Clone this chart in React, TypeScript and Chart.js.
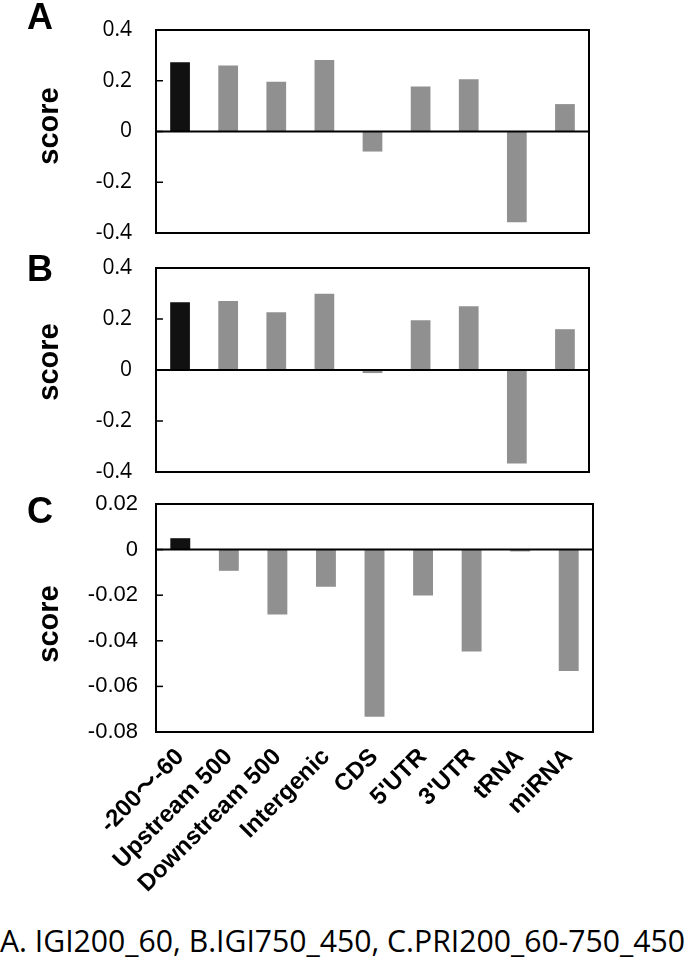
import React, { useEffect, useRef } from 'react';
import { Chart, registerables } from 'chart.js';

Chart.register(...registerables);

// ---------- data ----------
const categories = ['-200～-60', 'Upstream 500', 'Downstream 500', 'Intergenic', 'CDS', "5'UTR", "3'UTR", 'tRNA', 'miRNA'];
const scoresA = [0.273, 0.26, 0.196, 0.282, -0.079, 0.177, 0.206, -0.358, 0.108];
const scoresB = [0.266, 0.271, 0.226, 0.299, -0.012, 0.195, 0.25, -0.367, 0.16];
const scoresC = [0.005, -0.0093, -0.0285, -0.0163, -0.0733, -0.0201, -0.0447, -0.0008, -0.0532];
const ticksAB = [-0.4, -0.2, 0, 0.2, 0.4];
const tickLabelsAB = ['-0.4', '-0.2', '0', '0.2', '0.4'];
const ticksC = [-0.08, -0.06, -0.04, -0.02, 0, 0.02];
const tickLabelsC = ['-0.08', '-0.06', '-0.04', '-0.02', '0', '0.02'];
const panelLetters = ['A', 'B', 'C'];
const axisTitle = 'score';
const caption = 'A. IGI200_60, B.IGI750_450, C.PRI200_60-750_450';

// ---------- style ----------
const BLACK = '#111111';
const GRAY = '#909090';
const SANS = '"Liberation Sans", Arial, "Noto Sans CJK JP", sans-serif';
const HUMAN = '"Open Sans", "Liberation Sans", sans-serif';

type Panel = {
  values: number[];
  ticks: number[];
  labels: string[];
  canvasTop: number;
  canvasHeight: number;
  padTop: number;
  padBottom: number;
  padRight: number;
  showX: boolean;
  xHeight: number;
  titleY: number;
  tickFamily: string;
  tickSize: number;
  tickPad: number;
  letterTop: number;
};

const panels: Panel[] = [
  { values: scoresA, ticks: ticksAB, labels: tickLabelsAB, canvasTop: 0, canvasHeight: 250, padTop: 30, padBottom: 17, padRight: 96, showX: false, xHeight: 0, titleY: 126, tickFamily: HUMAN, tickSize: 21, tickPad: 24, letterTop: -1.5 },
  { values: scoresB, ticks: ticksAB, labels: tickLabelsAB, canvasTop: 250, canvasHeight: 240, padTop: 18, padBottom: 18, padRight: 96, showX: false, xHeight: 0, titleY: 112, tickFamily: HUMAN, tickSize: 21, tickPad: 24, letterTop: 251 },
  { values: scoresC, ticks: ticksC, labels: tickLabelsC, canvasTop: 490, canvasHeight: 412, padTop: 14, padBottom: 0, padRight: 92, showX: true, xHeight: 170, titleY: 134, tickFamily: SANS, tickSize: 22, tickPad: 18, letterTop: 492.5 },
];

function framePlugin(panel: Panel) {
  return {
    id: 'frame',
    afterDraw(chart: any) {
      const { ctx, chartArea } = chart;
      const { left, top, right, bottom } = chartArea;
      const y = chart.scales.y;
      ctx.save();
      ctx.strokeStyle = '#000';
      // zero line
      const z = y.getPixelForValue(0);
      ctx.lineWidth = 2;
      ctx.beginPath();
      ctx.moveTo(left, z);
      ctx.lineTo(right, z);
      ctx.stroke();
      // frame
      ctx.strokeRect(left, top, right - left, bottom - top);
      // inward tick marks
      ctx.lineWidth = 1.5;
      y.ticks.forEach((t: any) => {
        const py = y.getPixelForValue(t.value);
        ctx.beginPath();
        ctx.moveTo(left, py);
        ctx.lineTo(left + 7, py);
        ctx.stroke();
      });
      // axis title
      ctx.fillStyle = '#000';
      ctx.font = `bold 29px ${SANS}`;
      ctx.translate(50, panel.titleY);
      ctx.rotate(-Math.PI / 2);
      ctx.textAlign = 'center';
      ctx.textBaseline = 'middle';
      ctx.fillText(axisTitle, 0, 0);
      ctx.restore();
    },
  };
}

function makeChart(canvas: HTMLCanvasElement, panel: Panel) {
  return new Chart(canvas, {
    type: 'bar',
    data: {
      labels: categories,
      datasets: [
        {
          data: panel.values,
          backgroundColor: panel.values.map((_, i) => (i === 0 ? BLACK : GRAY)),
          borderWidth: 0,
          barPercentage: 0.41,
          categoryPercentage: 1,
        },
      ],
    },
    options: {
      responsive: false,
      animation: false,
      devicePixelRatio: 1,
      layout: { autoPadding: false, padding: { left: 0, right: panel.padRight, top: panel.padTop, bottom: panel.padBottom } },
      plugins: { legend: { display: false }, tooltip: { enabled: false }, title: { display: false } },
      scales: {
        x: {
          display: panel.showX,
          grid: { display: false, drawTicks: false },
          border: { display: false },
          ticks: {
            color: '#000',
            font: { family: SANS, size: 24, weight: 'bold' },
            maxRotation: 45,
            minRotation: 45,
            autoSkip: false,
            padding: 11,
          },
          afterFit: (s: any) => {
            if (panel.showX) s.height = panel.xHeight;
            s.paddingLeft = 0;
            s.paddingRight = 0;
            s.paddingTop = 0;
            s.paddingBottom = 0;
          },
        },
        y: {
          min: panel.ticks[0],
          max: panel.ticks[panel.ticks.length - 1],
          grid: { display: false, drawTicks: false },
          border: { display: false },
          afterBuildTicks: (s: any) => {
            s.ticks = panel.ticks.map((v) => ({ value: v }));
          },
          ticks: {
            color: '#000',
            font: { family: panel.tickFamily, size: panel.tickSize },
            padding: panel.tickPad,
            callback: (_v: any, i: number) => panel.labels[i],
          },
          afterFit: (s: any) => {
            s.width = 156;
            s.paddingTop = 0;
            s.paddingBottom = 0;
            s.paddingLeft = 0;
            s.paddingRight = 0;
          },
        },
      },
    } as any,
    plugins: [framePlugin(panel)],
  });
}

function PanelChart({ panel }: { panel: Panel }) {
  const ref = useRef<HTMLCanvasElement>(null);
  useEffect(() => {
    if (!ref.current) return;
    const chart = makeChart(ref.current, panel);
    return () => chart.destroy();
  }, [panel]);
  return (
    <div style={{ position: 'absolute', left: 0, top: panel.canvasTop, width: 685, height: panel.canvasHeight }}>
      <canvas ref={ref} width={685} height={panel.canvasHeight} style={{ display: 'block', width: 685, height: panel.canvasHeight }} />
    </div>
  );
}

export default function App() {
  const capRef = useRef<HTMLSpanElement>(null);
  useEffect(() => {
    const el = capRef.current;
    if (!el) return;
    el.style.transform = 'none';
    const w = el.getBoundingClientRect().width;
    if (w > 0) el.style.transform = `scaleX(${685 / w})`;
  }, []);
  return (
    <div style={{ position: 'absolute', left: 0, top: 0, width: 685, height: 958, background: '#fff', overflow: 'hidden' }}>
      {panels.map((p, i) => (
        <PanelChart key={i} panel={p} />
      ))}
      {panels.map((p, i) => (
        <div
          key={'l' + i}
          style={{ position: 'absolute', left: 27, top: p.letterTop, font: `bold 36px ${SANS}`, lineHeight: '36px', color: '#000' }}
        >
          {panelLetters[i]}
        </div>
      ))}
      <span
        ref={capRef}
        style={{
          position: 'absolute',
          left: 0,
          top: 925,
          fontFamily: HUMAN,
          fontSize: 31,
          lineHeight: '31px',
          whiteSpace: 'nowrap',
          color: '#000',
          transformOrigin: 'left top',
        }}
      >
        {caption}
      </span>
    </div>
  );
}
